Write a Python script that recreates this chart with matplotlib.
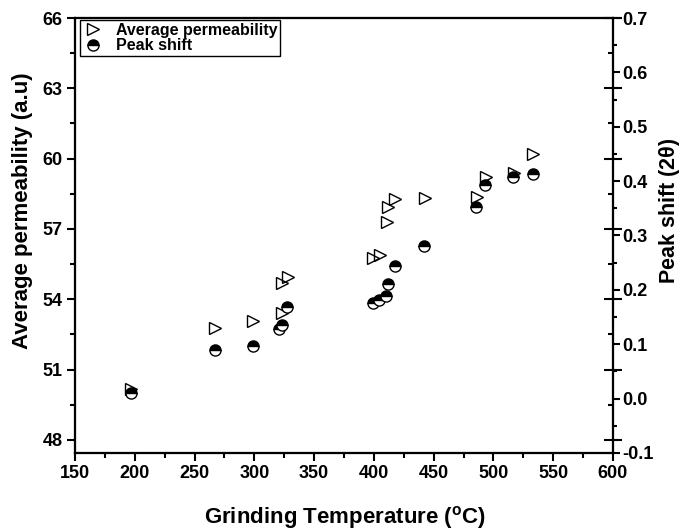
import matplotlib
matplotlib.use('Agg')
import matplotlib.pyplot as plt
from matplotlib.ticker import MultipleLocator

plt.rcParams['font.family'] = ['Liberation Sans', 'DejaVu Sans']
plt.rcParams['font.weight'] = 'bold'
plt.rcParams['mathtext.fontset'] = 'custom'
plt.rcParams['mathtext.rm'] = 'Liberation Sans:bold'
plt.rcParams['mathtext.bf'] = 'Liberation Sans:bold'

# average permeability (left axis)
temp_perm = [197, 267, 299, 323, 323, 328, 399, 405, 411, 412, 418, 443, 486, 494, 517, 533]
perm = [50.16, 52.79, 53.07, 53.40, 54.68, 54.94, 55.75, 55.89, 57.31, 57.95, 58.27,
        58.31, 58.38, 59.23, 59.37, 60.20]

# peak shift (right axis)
temp_shift = [197, 267, 299, 321, 323, 327, 399, 404, 410, 412, 418, 442, 485, 493, 516, 533]
shift = [0.010, 0.089, 0.096, 0.128, 0.135, 0.168, 0.175, 0.181, 0.189, 0.211, 0.243,
         0.281, 0.353, 0.393, 0.407, 0.413]

fig = plt.figure(figsize=(6.83, 5.31), dpi=100)
ax = fig.add_axes([0.1098, 0.1469, 0.7877, 0.8192])
ax_mirror = ax.twinx()
ax2 = ax.twinx()

l1, = ax.plot(temp_perm, perm, linestyle='none', marker='>', markersize=9,
              markerfacecolor='none', markeredgecolor='black', markeredgewidth=1,
              label='Average permeability')
l2, = ax2.plot(temp_shift, shift, linestyle='none', marker='o', markersize=8,
               fillstyle='top', markerfacecolor='black', markerfacecoloralt='white',
               markeredgecolor='black', markeredgewidth=1, label='Peak shift')

ax.set_xlim(150, 600)
ax.set_ylim(47.445, 66)
ax_mirror.set_ylim(47.445, 66)
ax2.set_ylim(-0.1, 0.7)

ax.xaxis.set_major_locator(MultipleLocator(50))
ax.xaxis.set_minor_locator(MultipleLocator(25))
ax.yaxis.set_major_locator(MultipleLocator(3))
ax.yaxis.set_minor_locator(MultipleLocator(1.5))
ax_mirror.yaxis.set_major_locator(MultipleLocator(3))
ax_mirror.yaxis.set_minor_locator(MultipleLocator(1.5))
ax2.yaxis.set_major_locator(MultipleLocator(0.1))
ax2.yaxis.set_minor_locator(MultipleLocator(0.05))

for a in (ax, ax_mirror, ax2):
    for s in a.spines.values():
        s.set_linewidth(1.5)

ax.tick_params(axis='both', which='major', direction='out', length=6, width=1.5,
               labelsize=13, pad=3)
ax.tick_params(axis='both', which='minor', direction='out', length=3.5, width=1.5)
ax.tick_params(axis='x', top=False)
ax_mirror.tick_params(axis='y', which='major', direction='inout', length=13, width=1.5,
                      labelright=False)
ax_mirror.tick_params(axis='y', which='minor', direction='in', length=3.5, width=1.5)
ax2.tick_params(axis='y', which='major', direction='out', length=5, width=1.5,
                labelsize=13, pad=2)
ax2.tick_params(axis='y', which='minor', direction='out', length=3, width=1.5)

ax2.yaxis.set_major_formatter(matplotlib.ticker.FormatStrFormatter('%.1f'))

ax.set_xlabel(r'Grinding Temperature ($^{\mathbf{o}}$C)', fontsize=16, fontweight='bold')
ax.set_ylabel('Average permeability (a.u)', fontsize=16, fontweight='bold')
ax2.set_ylabel(r'Peak shift (2$\mathbf{\theta}$)', fontsize=15.5, fontweight='bold')
ax.xaxis.set_label_coords(0.502, -0.117)
ax.yaxis.set_label_coords(-0.078, 0.556)
ax2.yaxis.set_label_coords(1.082, 0.556)

leg = ax2.legend(handles=[l1, l2], loc='upper left', bbox_to_anchor=(0.009, 0.995),
                 borderaxespad=0, fancybox=False, edgecolor='black', framealpha=1,
                 prop={'weight': 'bold', 'size': 11.5}, borderpad=0.15,
                 labelspacing=0.05, handletextpad=0.7, handlelength=1.4)
leg.get_frame().set_linewidth(1)

fig.savefig('out.png', dpi=100)
